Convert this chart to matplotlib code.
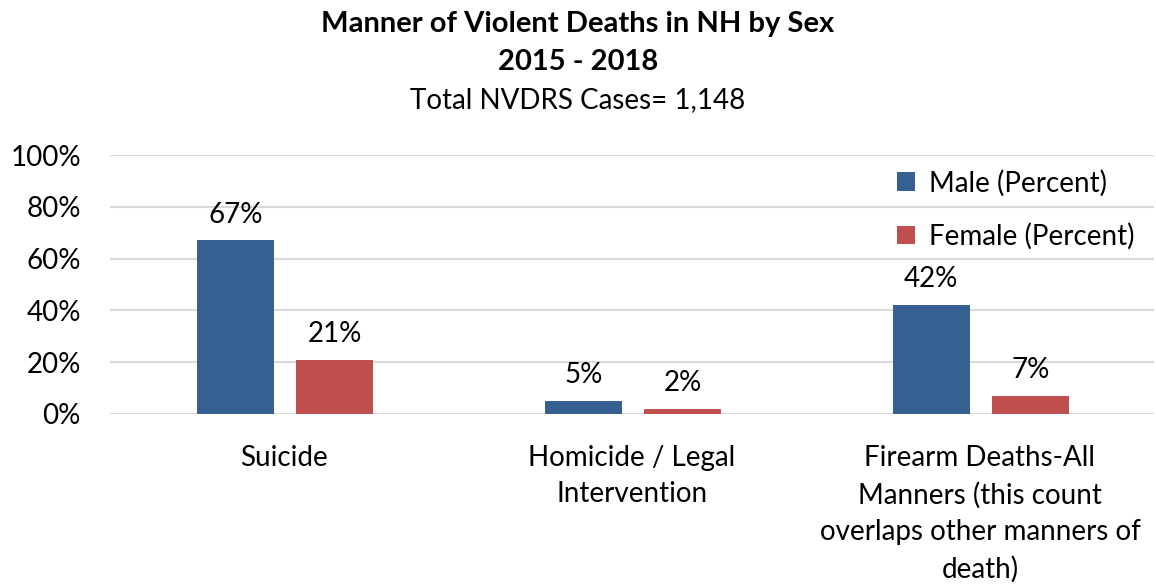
import numpy as np
import matplotlib

matplotlib.use("Agg")
import matplotlib.pyplot as plt

plt.rcParams["font.family"] = ["Lato", "DejaVu Sans"]

categories = ["Suicide", "Homicide / Legal\nIntervention",
              "Firearm Deaths-All\nManners (this count\noverlaps other manners of\ndeath)"]
male = [67, 5, 42]
female = [21, 2, 7]
male_labels = ["67%", "5%", "42%"]
female_labels = ["21%", "2%", "7%"]

BLUE = "#376092"
RED = "#c0504d"
FS = 20

fig = plt.figure(figsize=(11.56, 5.88), dpi=100)
ax = fig.add_axes([110 / 1156, 1 - 414 / 588, 1044 / 1156, 259 / 588])

x = np.arange(len(categories))
w = 0.221
bm = ax.bar(x - 0.14, male, w, color=BLUE, label="Male (Percent)", zorder=3)
bf = ax.bar(x + 0.145, female, w, color=RED, label="Female (Percent)", zorder=3)
for bars, labs in ((bm, male_labels), (bf, female_labels)):
    for b, t in zip(bars, labs):
        ax.text(b.get_x() + b.get_width() / 2, b.get_height() + 5, t,
                ha="center", va="bottom", fontsize=FS)

ax.set_xlim(-0.5, 2.5)
ax.set_ylim(0, 100)
ax.set_yticks(range(0, 101, 20))
ax.set_yticklabels([f"{v}%" for v in range(0, 101, 20)], fontsize=FS)
ax.set_xticks(x)
ax.set_xticklabels(categories, fontsize=FS, linespacing=1.5, va="top")
ax.tick_params(axis="both", length=0)
ax.tick_params(axis="x", pad=22)
ax.tick_params(axis="y", pad=21)
ax.grid(axis="y", color="#d9d9d9", lw=1.5, zorder=0)
for s in ax.spines.values():
    s.set_visible(False)

ax.legend(loc="upper right", bbox_to_anchor=(1.005, 1.04), frameon=False,
          fontsize=FS, labelspacing=0.95, handlelength=0.65, handleheight=0.65,
          handletextpad=0.5)

fig.text(0.5, 1 - 24 / 588, "Manner of Violent Deaths in NH by Sex", ha="center",
         va="center", fontsize=21, fontweight="bold")
fig.text(0.5, 1 - 62 / 588, "2015 - 2018", ha="center", va="center",
         fontsize=21, fontweight="bold")
fig.text(0.5, 1 - 100 / 588, "Total NVDRS Cases= 1,148", ha="center",
         va="center", fontsize=FS)

fig.savefig("out.png", dpi=100)
